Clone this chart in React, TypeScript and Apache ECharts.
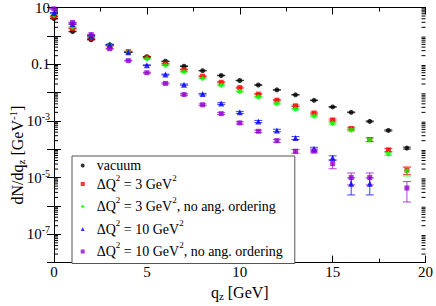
import React, { useEffect, useRef } from 'react';
import * as echarts from 'echarts';

// q_z [GeV]
const Q_Z = [0, 1, 2, 3, 4, 5, 6, 7, 8, 9, 10, 11, 12, 13, 14, 15, 16, 17, 18, 19];

// dN/dq_z [GeV^-1]
const VACUUM = [4.08, 1.41, 0.73, 0.48, 0.265, 0.184, 0.127, 0.085, 0.059, 0.040, 0.0266, 0.0184, 0.0124, 0.0083, 0.0053, 0.0031, 0.0020, 0.00096, 0.00046, 0.00011];
const DQ3 = [4.74, 1.79, 0.83, 0.45, 0.28, 0.174, 0.105, 0.065, 0.0377, 0.023, 0.0149, 0.0088, 0.0054, 0.0034, 0.0019, 0.00108, 0.00054, 0.00022, 0.000095, 0.0000182];
const DQ3_NOAO = [5.3, 2.0, 0.95, 0.46, 0.275, 0.157, 0.092, 0.054, 0.032, 0.018, 0.0108, 0.0069, 0.0041, 0.0026, 0.0015, 0.00083, 0.00048, 0.000216, 0.000069, 0.000017];
const DQ10 = [6.45, 2.6, 1.0, 0.49, 0.265, 0.092, 0.043, 0.019, 0.0088, 0.0041, 0.0020, 0.00095, 0.00046, 0.00025, 0.000102, 0.00005, 0.0000061, 0.0000061, null, null];
const DQ10_NOAO = [9.0, 2.97, 1.11, 0.35, 0.134, 0.050, 0.021, 0.0085, 0.0037, 0.0018, 0.00085, 0.00043, 0.0002, 0.000085, 0.000087, 0.000031, 0.00001, 0.00001, null, 0.0000043];

// relative errors (sigma / value)
const VACUUM_ERR = [0.02, 0.02, 0.02, 0.02, 0.02, 0.02, 0.02, 0.02, 0.02, 0.02, 0.02, 0.02, 0.02, 0.02, 0.02, 0.03, 0.03, 0.04, 0.05, 0.08];
const DQ3_ERR = [0.02, 0.02, 0.02, 0.02, 0.02, 0.02, 0.03, 0.03, 0.03, 0.04, 0.04, 0.05, 0.05, 0.06, 0.07, 0.08, 0.1, 0.15, 0.12, 0.3];
const DQ3_NOAO_ERR = [0.02, 0.02, 0.02, 0.02, 0.02, 0.02, 0.03, 0.03, 0.03, 0.04, 0.04, 0.05, 0.05, 0.06, 0.07, 0.08, 0.1, 0.15, 0.12, 0.33];
const DQ10_ERR = [0.02, 0.02, 0.02, 0.03, 0.03, 0.03, 0.04, 0.05, 0.06, 0.07, 0.08, 0.09, 0.1, 0.12, 0.15, 0.17, 0.6, 0.6, null, null];
const DQ10_NOAO_ERR = [0.02, 0.02, 0.02, 0.03, 0.03, 0.04, 0.05, 0.06, 0.07, 0.08, 0.09, 0.1, 0.12, 0.15, 0.15, 0.34, 0.45, 0.45, null, 0.68];

const SERIES_NAMES = ['vacuum', 'dq3', 'dq3n', 'dq10', 'dq10n'];
const LEGEND_LABELS: Record<string, string> = {
  vacuum: 'vacuum',
  dq3: '\u0394Q{s|2} = 3 GeV{s|2}',
  dq3n: '\u0394Q{s|2} = 3 GeV{s|2}, no ang. ordering',
  dq10: '\u0394Q{s|2} = 10 GeV{s|2}',
  dq10n: '\u0394Q{s|2} = 10 GeV{s|2}, no ang. ordering',
};

const Y_DECADES = [-8, -7, -6, -5, -4, -3, -2, -1, 0];
const MINOR_MULT = [2, 3, 4, 5, 6, 7, 8, 9];

const FONT = 'Liberation Serif';

export default function App() {
  const ref = useRef<HTMLDivElement>(null);

  useEffect(() => {
    if (!ref.current) return;
    document.body.style.margin = '0';
    const chart = echarts.init(ref.current, undefined, { renderer: 'svg' });

    const defs = [
      { name: 'vacuum', values: VACUUM, errs: VACUUM_ERR, color: '#000000', symbol: 'circle', size: 5 },
      { name: 'dq3', values: DQ3, errs: DQ3_ERR, color: '#ff0000', symbol: 'rect', size: 5 },
      { name: 'dq3n', values: DQ3_NOAO, errs: DQ3_NOAO_ERR, color: '#00ff00', symbol: 'diamond', size: 6 },
      { name: 'dq10', values: DQ10, errs: DQ10_ERR, color: '#0000ff', symbol: 'triangle', size: 6 },
      { name: 'dq10n', values: DQ10_NOAO, errs: DQ10_NOAO_ERR, color: '#9400d3', symbol: 'rect', size: 5 },
    ];

    const series: any[] = [];

    // minor log ticks on left and right
    const minorData: number[][] = [];
    Y_DECADES.forEach((k) => MINOR_MULT.forEach((m) => minorData.push([0, m * Math.pow(10, k)])));
    series.push({
      type: 'custom',
      silent: true,
      data: minorData,
      encode: { x: 0, y: 1 },
      renderItem: (params: any, api: any) => {
        const cs = params.coordSys;
        const y = api.coord([0, api.value(1)])[1];
        const st = { stroke: '#000', lineWidth: 1 };
        return {
          type: 'group',
          children: [
            { type: 'line', shape: { x1: cs.x, y1: y, x2: cs.x + 4, y2: y }, style: st },
            { type: 'line', shape: { x1: cs.x + cs.width - 4, y1: y, x2: cs.x + cs.width, y2: y }, style: st },
          ],
        };
      },
      z: 1,
    });

    defs.forEach((d) => {
      const errData: number[][] = [];
      Q_Z.forEach((q, i) => {
        const v = d.values[i];
        const e = d.errs[i];
        if (v == null || e == null) return;
        errData.push([q, v, v * (1 - e), v * (1 + e)]);
      });
      series.push({
        type: 'custom',
        name: d.name + '_err',
        silent: true,
        data: errData,
        encode: { x: 0, y: 1 },
        renderItem: (params: any, api: any) => {
          const x = api.value(0);
          const lo = api.coord([x, api.value(2)]);
          const hi = api.coord([x, api.value(3)]);
          const hw = 4;
          const st = { stroke: d.color, lineWidth: 1, opacity: 0.75 };
          return {
            type: 'group',
            children: [
              { type: 'line', shape: { x1: lo[0], y1: lo[1], x2: hi[0], y2: hi[1] }, style: st },
              { type: 'line', shape: { x1: lo[0] - hw, y1: lo[1], x2: lo[0] + hw, y2: lo[1] }, style: st },
              { type: 'line', shape: { x1: hi[0] - hw, y1: hi[1], x2: hi[0] + hw, y2: hi[1] }, style: st },
            ],
          };
        },
        z: 2,
      });
      series.push({
        type: 'scatter',
        name: d.name,
        symbol: d.symbol,
        symbolSize: d.size,
        itemStyle: { color: d.color },
        data: Q_Z.map((q, i) => (d.values[i] == null ? null : [q, d.values[i]])).filter((p) => p != null),
        z: 3,
      });
    });

    const yLabel = (v: number) => {
      const e = Math.round(Math.log10(v));
      if (e % 2 === 0) return '';
      if (e === 1) return '10';
      if (e === -1) return '0.1';
      return '10{s|' + e + '}';
    };

    const axisLine = { show: true, lineStyle: { color: '#000', width: 1 } };

    chart.setOption({
      animation: false,
      backgroundColor: '#fff',
      grid: { left: 54, right: 10, top: 7, bottom: 38, containLabel: false },
      xAxis: [
        {
          type: 'value',
          min: 0,
          max: 20,
          interval: 5,
          position: 'bottom',
          axisLine,
          axisTick: { show: true, inside: true, length: 7, lineStyle: { color: '#000' } },
          minorTick: { show: true, splitNumber: 2, length: 4, lineStyle: { color: '#000' } },
          splitLine: { show: false },
          minorSplitLine: { show: false },
          axisLabel: { color: '#000', fontFamily: FONT, fontSize: 15, margin: 2 },
          name: 'q{sub|z} [GeV]',
          nameLocation: 'middle',
          nameGap: 18,
          nameTextStyle: {
            color: '#000',
            fontFamily: FONT,
            fontSize: 16,
            rich: { sub: { fontFamily: FONT, fontSize: 11, color: '#000', padding: [6, 0, 0, 0] } },
          },
        },
        {
          type: 'value',
          min: 0,
          max: 20,
          interval: 5,
          position: 'top',
          axisLine,
          axisTick: { show: true, inside: true, length: 7, lineStyle: { color: '#000' } },
          minorTick: { show: true, splitNumber: 2, length: 4, lineStyle: { color: '#000' } },
          splitLine: { show: false },
          axisLabel: { show: false },
        },
      ],
      yAxis: [
        {
          type: 'log',
          logBase: 10,
          min: 1e-8,
          max: 10,
          splitNumber: 9,
          position: 'left',
          axisLine,
          axisTick: { show: true, inside: true, length: 7, lineStyle: { color: '#000' } },
          splitLine: { show: false },
          axisLabel: {
            color: '#000',
            fontFamily: FONT,
            fontSize: 15,
            margin: 4,
            formatter: yLabel,
            rich: { s: { fontFamily: FONT, fontSize: 10, color: '#000', padding: [0, 0, 9, 0] } },
          },
        },
        {
          type: 'log',
          logBase: 10,
          min: 1e-8,
          max: 10,
          splitNumber: 9,
          position: 'right',
          axisLine,
          axisTick: { show: true, inside: true, length: 7, lineStyle: { color: '#000' } },
          splitLine: { show: false },
          axisLabel: { show: false },
        },
      ],
      legend: {
        data: SERIES_NAMES,
        orient: 'vertical',
        left: 72,
        top: 156,
        padding: [2.5, 12, 1, 8.7],
        itemGap: 0.5,
        itemWidth: 4,
        itemHeight: 4,
        selectedMode: false,
        borderColor: '#555',
        borderWidth: 1,
        backgroundColor: '#fff',
        formatter: (name: string) => LEGEND_LABELS[name],
        textStyle: {
          color: '#000',
          fontFamily: FONT,
          fontSize: 14,
          lineHeight: 10,
          padding: [0, 0, 0, 7],
          rich: { s: { fontFamily: FONT, fontSize: 9, color: '#000', lineHeight: 21, padding: [0, 0, 13, 0] } },
        },
      },
      graphic: [
        {
          type: 'text',
          x: 17,
          y: 155,
          rotation: Math.PI / 2,
          style: {
            text: 'dN/dq{sub|z} [GeV{sup|-1}]',
            fill: '#000',
            fontFamily: FONT,
            fontSize: 16,
            align: 'center',
            verticalAlign: 'middle',
            rich: {
              sub: { fontFamily: FONT, fontSize: 11, fill: '#000', padding: [7, 0, 0, 0] },
              sup: { fontFamily: FONT, fontSize: 11, fill: '#000', padding: [0, 0, 9, 0] },
            },
          },
        },
      ],
      series,
    });

    return () => chart.dispose();
  }, []);

  return <div ref={ref} style={{ width: 436, height: 306 }} />;
}
